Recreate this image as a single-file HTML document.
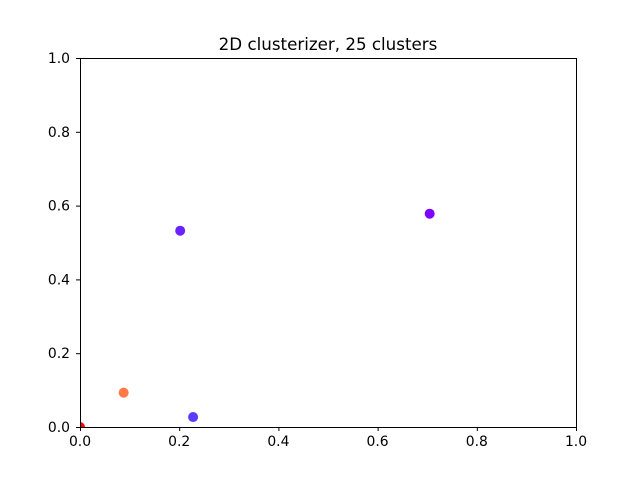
<!DOCTYPE html>
<html><head><meta charset="utf-8"><style>
body{margin:0;background:#fff;}
svg text{font-family:"DejaVu Sans","Liberation Sans",sans-serif;font-size:13.9px;fill:#000;}
</style></head><body>
<svg id="chart" width="640" height="480" viewBox="0 0 640 480">
<rect x="0" y="0" width="640" height="480" fill="#fff"/>
<text x="328" y="50" text-anchor="middle" style="font-size:16.7px">2D clusterizer, 25 clusters</text>
<defs><clipPath id="clip"><rect x="80" y="58" width="496" height="369"/></clipPath></defs>
<g id="marks" clip-path="url(#clip)"></g>
<g id="axes"></g>
<rect x="80.5" y="58.5" width="496" height="369" fill="none" stroke="#000" stroke-width="1"/>
</svg>
<script>
const xs=[0.705,0.202,0.228,0.088,0.0];
const ys=[0.578,0.532,0.027,0.093,0.0];
const colors=['#7f00ff','#6a23fe','#5a3cfc','#ff7b45','#ff0000'];
const xTicks=[0,0.2,0.4,0.6,0.8,1.0];
const yTicks=[0,0.2,0.4,0.6,0.8,1.0];
const X0=80,X1=576,Y0=427,Y1=58;
function sx(v){return X0+v*(X1-X0);}
function sy(v){return Y0-v*(Y0-Y1);}
const NS='http://www.w3.org/2000/svg';
const marks=document.getElementById('marks'),axes=document.getElementById('axes');
for(let i=0;i<xs.length;i++){
 const c=document.createElementNS(NS,'circle');
 c.setAttribute('cx',sx(xs[i]));c.setAttribute('cy',sy(ys[i]));c.setAttribute('r',5);c.setAttribute('fill',colors[i]);
 
 
 marks.appendChild(c);
}
xTicks.forEach(t=>{
 const l=document.createElementNS(NS,'line');
 l.setAttribute('x1',sx(t)+0.5);l.setAttribute('x2',sx(t)+0.5);l.setAttribute('y1',Y0);l.setAttribute('y2',Y0+4);l.setAttribute('stroke','#000');l.setAttribute('stroke-width','1');
 
 
 axes.appendChild(l);
 const tx=document.createElementNS(NS,'text');
 tx.setAttribute('x',sx(t));tx.setAttribute('y',Y0+19);tx.setAttribute('text-anchor','middle');tx.textContent=t.toFixed(1);
 
 
 axes.appendChild(tx);
});
yTicks.forEach(t=>{
 const l=document.createElementNS(NS,'line');
 l.setAttribute('x1',X0-4);l.setAttribute('x2',X0);l.setAttribute('y1',sy(t)+0.5);l.setAttribute('y2',sy(t)+0.5);l.setAttribute('stroke','#000');l.setAttribute('stroke-width','1');
 
 
 axes.appendChild(l);
 const tx=document.createElementNS(NS,'text');
 tx.setAttribute('x',X0-10);tx.setAttribute('y',sy(t)+5);tx.setAttribute('text-anchor','end');tx.textContent=t.toFixed(1);
 
 
 axes.appendChild(tx);
});
</script>
</body></html>
